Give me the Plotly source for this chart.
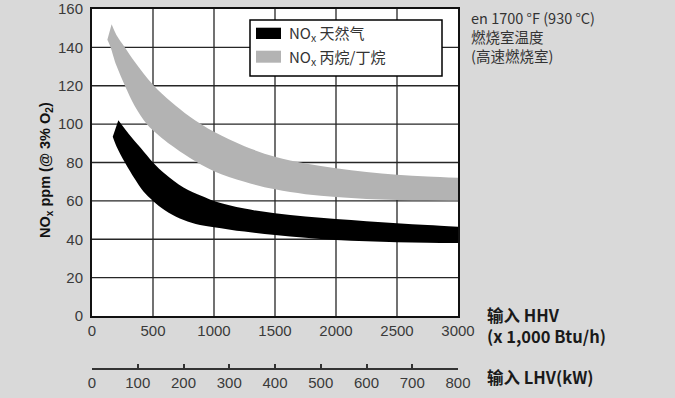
import plotly.graph_objects as go

# NOx emission bands versus burner input (HHV, x 1,000 Btu/h)
gas_upper_hhv = [216, 300, 400, 500, 600, 750, 900, 1000, 1250, 1500, 1750, 2000, 2250, 2500, 2750, 3000]
gas_upper_nox = [102, 95, 87.5, 80, 74, 67, 62.5, 60, 56, 53.5, 51.8, 50.5, 49.4, 48.3, 47.4, 46.5]
gas_lower_hhv = [170, 200, 270, 350, 420, 500, 600, 720, 850, 1000, 1250, 1500, 1750, 2000, 2250, 2500, 2750, 3000]
gas_lower_nox = [93.4, 88.5, 80, 71.5, 65, 60, 55, 50.8, 48, 46.3, 44, 42.2, 40.8, 39.6, 39, 38.5, 38.2, 38]

lpg_upper_hhv = [161, 200, 270, 350, 500, 650, 800, 1000, 1250, 1500, 1750, 2000, 2250, 2500, 2750, 3000]
lpg_upper_nox = [152, 146.5, 140, 132.5, 120.5, 111.5, 104, 96, 88.5, 83, 79.5, 77, 75, 73.6, 72.7, 72]
lpg_lower_hhv = [126, 150, 200, 270, 350, 450, 550, 650, 800, 1000, 1250, 1500, 1750, 2000, 2250, 2500, 2750, 3000]
lpg_lower_nox = [144, 140.5, 130.5, 120, 109.5, 100, 94, 89, 82.5, 75.5, 70, 66, 63.5, 62, 61, 60.5, 60.3, 60.2]

hhv_ticks = [0, 500, 1000, 1500, 2000, 2500, 3000]
nox_ticks = [0, 20, 40, 60, 80, 100, 120, 140, 160]
lhv_ticks = [0, 100, 200, 300, 400, 500, 600, 700, 800]

series_labels = ["NO<sub>x</sub> 天然气", "NO<sub>x</sub> 丙烷/丁烷"]
series_colors = ["#000000", "#b3b3b3"]

W, H = 675, 398
ML, MR, MT, MB = 92, 217, 9, 20
PW = W - ML - MR
PH = H - MT - MB


def fx(px):
    return (px - ML) / PW


def fy(py):
    return (H - MB - py) / PH


X_RANGE = [hhv_ticks[0], hhv_ticks[-1]]
Y_RANGE = [nox_ticks[0], nox_ticks[-1]]
Y_DOMAIN = [fy(316), 1]


def paper_x(v):
    return (v - X_RANGE[0]) / (X_RANGE[1] - X_RANGE[0])


def paper_y(v):
    t = (v - Y_RANGE[0]) / (Y_RANGE[1] - Y_RANGE[0])
    return Y_DOMAIN[0] + t * (Y_DOMAIN[1] - Y_DOMAIN[0])


TICK_FONT = dict(family="Liberation Sans", size=15, color="#3a3a3a")
CJK = "Noto Sans CJK SC"
GRID = "#262626"

fig = go.Figure()

bands = [
    (gas_lower_hhv, gas_lower_nox, gas_upper_hhv, gas_upper_nox, series_colors[0]),
    (lpg_lower_hhv, lpg_lower_nox, lpg_upper_hhv, lpg_upper_nox, series_colors[1]),
]
for lx, ly, ux, uy, col in bands:
    fig.add_trace(go.Scatter(x=lx, y=ly, mode="lines", line=dict(width=0, color=col, shape="spline", smoothing=1.0),
                             showlegend=False, hoverinfo="skip"))
    fig.add_trace(go.Scatter(x=ux, y=uy, mode="lines", fill="tonexty", fillcolor=col,
                             line=dict(width=0, color=col, shape="spline", smoothing=1.0),
                             showlegend=False, hoverinfo="skip"))

# carrier for the secondary kW scale (a hairline strip below the chart)
fig.add_trace(go.Scatter(x=[], y=[], xaxis="x2", yaxis="y2", mode="lines", showlegend=False))

fig.update_layout(
    template="none",
    width=W, height=H,
    margin=dict(l=ML, r=MR, t=MT, b=MB, autoexpand=False),
    paper_bgcolor="#d9d9d9",
    plot_bgcolor="rgba(0,0,0,0)",
    font=dict(family="Liberation Sans", size=15, color="#3a3a3a"),
    showlegend=False,
    xaxis=dict(range=X_RANGE, tickmode="array", tickvals=hhv_ticks, showgrid=False,
               showline=True, linecolor="#111111", linewidth=2, mirror=True, ticks="", zeroline=False,
               tickfont=TICK_FONT, anchor="y", automargin=False),
    yaxis=dict(domain=Y_DOMAIN, range=Y_RANGE, tickmode="array", tickvals=nox_ticks, showgrid=False,
               showline=True, linecolor="#111111", linewidth=2, mirror=True, ticks="",
               zeroline=False, tickfont=TICK_FONT, ticklabelstandoff=4, automargin=False, anchor="x"),
    xaxis2=dict(domain=[0, 1], anchor="y2", side="bottom", range=[0, 800], tickmode="array",
                tickvals=lhv_ticks, showgrid=False, zeroline=False, showline=True, linecolor="#333333",
                linewidth=1.5, ticks="inside", ticklen=4, tickwidth=1.5, tickcolor="#333333",
                tickfont=TICK_FONT, automargin=False),
    yaxis2=dict(domain=[fy(368), fy(368) + 0.0005], range=[0, 1], visible=False, showgrid=False,
                anchor="x2"),
)

# white plotting field, then the grid on it, all beneath the bands
fig.add_shape(type="rect", xref="paper", yref="paper", x0=0, x1=1, y0=Y_DOMAIN[0], y1=Y_DOMAIN[1],
              line=dict(width=0), fillcolor="#ffffff", layer="below")
for v in hhv_ticks[1:-1]:
    fig.add_shape(type="line", xref="paper", yref="paper", x0=paper_x(v), x1=paper_x(v),
                  y0=Y_DOMAIN[0], y1=Y_DOMAIN[1], line=dict(color=GRID, width=1.3), layer="below")
for v in nox_ticks[1:-1]:
    fig.add_shape(type="line", xref="paper", yref="paper", x0=0, x1=1,
                  y0=paper_y(v), y1=paper_y(v), line=dict(color=GRID, width=1.3), layer="below")

# legend box
fig.add_shape(type="rect", xref="paper", yref="paper", x0=fx(250), x1=fx(442), y0=fy(76), y1=fy(20),
              line=dict(color="#000000", width=1.5), fillcolor="#ffffff", layer="above")
fig.add_shape(type="rect", xref="paper", yref="paper", x0=fx(256), x1=fx(281), y0=fy(39), y1=fy(27.7),
              line=dict(width=0), fillcolor=series_colors[0], layer="above")
fig.add_shape(type="rect", xref="paper", yref="paper", x0=fx(256), x1=fx(281), y0=fy(62.7), y1=fy(50.7),
              line=dict(width=0), fillcolor=series_colors[1], layer="above")
for label, cy in zip(series_labels, [33.5, 57]):
    fig.add_annotation(xref="paper", yref="paper", x=fx(287), y=fy(cy), xanchor="left", yanchor="middle",
                       text=label, showarrow=False, font=dict(family=CJK, size=15, color="#333333"))

fig.add_annotation(xref="paper", yref="paper", x=fx(35), y=fy(170), textangle=-90, showarrow=False,
                   text="<b>NO<sub>x</sub> ppm (@ 3% O<sub>2</sub>)</b>",
                   font=dict(family="Liberation Sans", size=14.5, color="#111111"))

fig.add_annotation(xref="paper", yref="paper", x=fx(485), y=fy(325.5), xanchor="left", yanchor="middle",
                   align="left", showarrow=False, text="<b>输入 HHV<br>(x 1,000 Btu/h)</b>",
                   font=dict(family=CJK, size=16.5, color="#1a1a1a"))
fig.add_annotation(xref="paper", yref="paper", x=fx(485), y=fy(377), xanchor="left", yanchor="middle",
                   align="left", showarrow=False, text="<b>输入 LHV(kW)</b>",
                   font=dict(family=CJK, size=16.5, color="#1a1a1a"))

fig.add_annotation(xref="paper", yref="paper", x=fx(469), y=fy(5), xanchor="left", yanchor="top",
                   align="left", showarrow=False,
                   text="en 1700 °F (930 °C)<br>燃烧室温度<br>(高速燃烧室)",
                   font=dict(family=CJK, size=14.5, color="#333333"))

fig.write_html("out.html")
